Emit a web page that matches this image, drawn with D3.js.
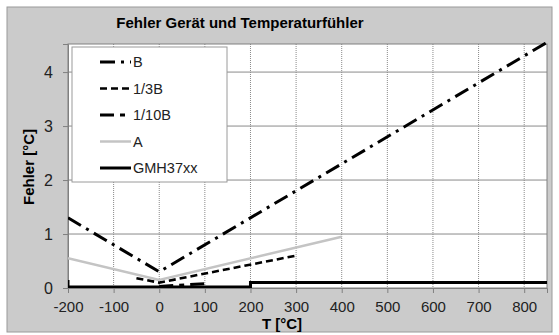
<!DOCTYPE html>
<html>
<head>
<meta charset="utf-8">
<script src="https://cdn.jsdelivr.net/npm/d3@7"></script>
<style>
  body { margin: 0; background: #fff; }
  text { font-family: "Liberation Sans", Arial, sans-serif; }
</style>
</head>
<body>
<svg id="chart" width="559" height="335"></svg>
<script>
// tick values
const xTicks = [-200, -100, 0, 100, 200, 300, 400, 500, 600, 700, 800]
const yTicks = [0, 1, 2, 3, 4]

// series: names and [T, Fehler] points
const seriesNames = ['B', '1/3B', '1/10B', 'A', 'GMH37xx']
const seriesB = [[-200, 1.3], [0, 0.3], [850, 4.55]]
const series13B = [[-50, 0.18], [0, 0.1], [300, 0.6]]
const series110B = [[0, 0.03], [100, 0.08]]
const seriesA = [[-200, 0.55], [0, 0.15], [400, 0.95]]
const seriesGMH = [[-200, 0.15], [-200, 0.02], [200, 0.02], [200, 0.1], [850, 0.1]]

const svg = d3.select('#chart')

// outer grey frame
svg.append('rect')
  .attr('x', 7).attr('y', 7)
  .attr('width', 545).attr('height', 325)
  .attr('fill', '#cbcbcb')
  .attr('stroke', '#9a9a9a')

const plotLeft = 68, plotRight = 547, plotTop = 44, plotBottom = 288

const x = d3.scaleLinear().domain([-200, 850]).range([plotLeft, plotRight])
const y = d3.scaleLinear().domain([0, 4.52]).range([plotBottom, plotTop])

// plot area
svg.append('rect')
  .attr('x', plotLeft).attr('y', plotTop)
  .attr('width', plotRight - plotLeft).attr('height', plotBottom - plotTop)
  .attr('fill', '#fff')

svg.append('defs').append('clipPath').attr('id', 'clip')
  .append('rect')
  .attr('x', plotLeft).attr('y', plotTop - 2)
  .attr('width', plotRight - plotLeft).attr('height', plotBottom - plotTop + 2)

// vertical dotted grid
svg.append('g')
  .selectAll('line')
  .data(xTicks.filter(d => d > -200))
  .join('line')
  .attr('x1', d => x(d)).attr('x2', d => x(d))
  .attr('y1', plotTop).attr('y2', plotBottom)
  .attr('stroke', '#8a8a8a')
  .attr('stroke-dasharray', '1,1')

// horizontal grid
svg.append('g')
  .selectAll('line')
  .data(yTicks.filter(d => d > 0))
  .join('line')
  .attr('x1', plotLeft).attr('x2', plotRight)
  .attr('y1', d => y(d)).attr('y2', d => y(d))
  .attr('stroke', '#8a8a8a')

// plot border
svg.append('rect')
  .attr('x', plotLeft).attr('y', plotTop)
  .attr('width', plotRight - plotLeft).attr('height', plotBottom - plotTop)
  .attr('fill', 'none')
  .attr('stroke', '#808080')

// axes (plain hyphen for negative labels, like the original)
const xAxis = svg.append('g')
  .attr('transform', `translate(0, ${plotBottom})`)
  .call(d3.axisBottom(x).tickValues(xTicks).tickSize(5).tickPadding(8).tickFormat(d => String(d)))
xAxis.select('.domain').attr('stroke', '#808080')
xAxis.selectAll('line').attr('stroke', '#808080')
xAxis.selectAll('text').attr('font-size', 15).attr('fill', '#222')

const yAxis = svg.append('g')
  .attr('transform', `translate(${plotLeft}, 0)`)
  .call(d3.axisLeft(y).tickValues(yTicks).tickSize(5).tickPadding(10).tickFormat(d => String(d)))
yAxis.select('.domain').attr('stroke', '#808080')
yAxis.selectAll('line').attr('stroke', '#808080')
yAxis.selectAll('text').attr('font-size', 16).attr('fill', '#222')

// line styles
const styles = {
  'B': {stroke: '#000', width: 3, dash: '15,6,3,6'},
  '1/3B': {stroke: '#000', width: 2.6, dash: '7,4'},
  '1/10B': {stroke: '#000', width: 3, dash: '14,6,5,6'},
  'A': {stroke: '#c4c4c4', width: 2.5, dash: null},
  'GMH37xx': {stroke: '#000', width: 3, dash: null}
}
const allSeries = [seriesB, series13B, series110B, seriesA, seriesGMH]

const line = d3.line().x(d => x(d[0])).y(d => y(d[1]))

const lines = svg.append('g').attr('clip-path', 'url(#clip)')
allSeries.forEach((pts, i) => {
  const s = styles[seriesNames[i]]
  lines.append('path')
    .attr('d', line(pts))
    .attr('fill', 'none')
    .attr('stroke', s.stroke)
    .attr('stroke-width', s.width)
    .attr('stroke-dasharray', s.dash)
})

// legend
const legend = svg.append('g')
legend.append('rect')
  .attr('x', 72).attr('y', 47)
  .attr('width', 155).attr('height', 135)
  .attr('fill', '#fff')
  .attr('stroke', '#9a9a9a')

const legendY = d3.scalePoint().domain(seriesNames).range([62, 168])
seriesNames.forEach(name => {
  const s = styles[name]
  legend.append('line')
    .attr('x1', 100).attr('x2', 131)
    .attr('y1', legendY(name)).attr('y2', legendY(name))
    .attr('stroke', s.stroke)
    .attr('stroke-width', s.width)
    .attr('stroke-dasharray', s.dash)
  legend.append('text')
    .attr('x', 133).attr('y', legendY(name))
    .attr('dy', '0.35em')
    .attr('font-size', 14.5)
    .attr('fill', '#222')
    .text(name)
})

// titles
svg.append('text')
  .attr('x', 240).attr('y', 28)
  .attr('text-anchor', 'middle')
  .attr('font-size', 15).attr('font-weight', 'bold')
  .text('Fehler Gerät und Temperaturfühler')

svg.append('text')
  .attr('transform', 'translate(34, 167) rotate(-90)')
  .attr('text-anchor', 'middle')
  .attr('font-size', 15).attr('font-weight', 'bold')
  .text('Fehler [°C]')

svg.append('text')
  .attr('x', 282).attr('y', 329)
  .attr('text-anchor', 'middle')
  .attr('font-size', 15).attr('font-weight', 'bold')
  .text('T [°C]')
</script>
</body>
</html>
